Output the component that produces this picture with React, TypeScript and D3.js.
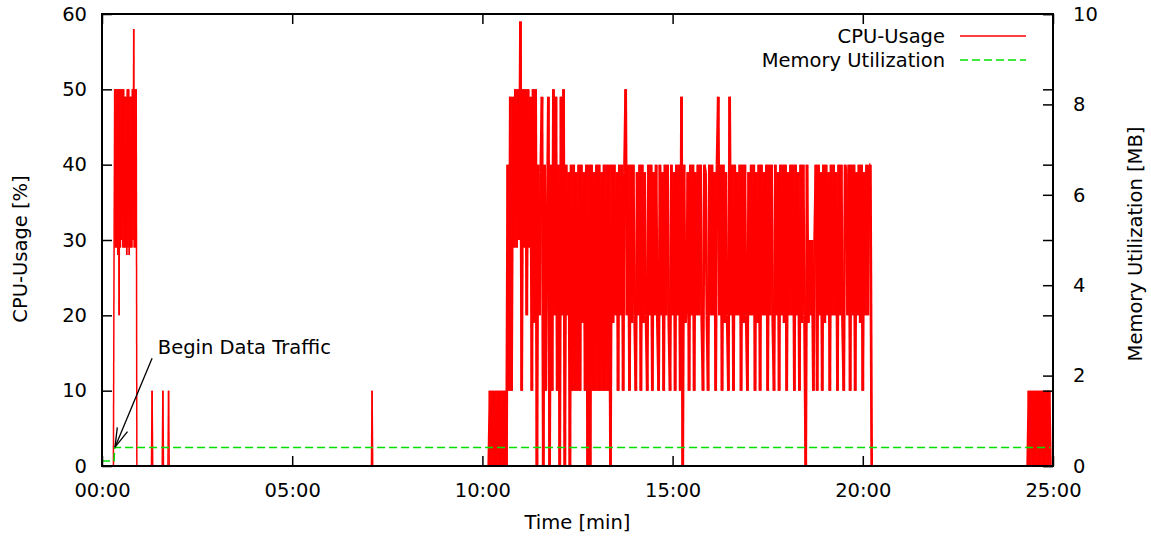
import * as d3 from 'd3';
import { useEffect, useRef } from 'react';

const width = 1151;
const height = 540;

// x axis in seconds, labelled as mm:ss
const xTicksMin = [0, 5, 10, 15, 20, 25];
const xTickLabels = ['00:00', '05:00', '10:00', '15:00', '20:00', '25:00'];
const cpuTicks = [0, 10, 20, 30, 40, 50, 60];
const memTicks = [0, 2, 4, 6, 8, 10];

// one character per sample
const levelValues: Record<string, number> = {
  '0': 0, '1': 10, a: 19, '2': 20, w: 28, b: 29, '3': 30,
  c: 39, '4': 40, d: 49, '5': 50, x: 58, y: 59,
};

const earlyBurst = '0w5b5b5w525b535b5bdbdw5b5wdbdb53xb5b50';

// 10:10 .. 20:14, one sample every 2 s
const mainBurst = [
  '010101010101010',
  '41d1db5',
  'b53y15b525bd15a5',
  '042cd0413d041',
  '52d140d2504',
  '2c04141c1414ac1404',
  '041c14141c14141404',
  'a42c14241c', '52414a421c', '2414ac2142', '41c24a142c', '1424a142c1', '4241d0',
  '4a2c14241c', '2424a14c21', '4242c14d24', '14ac21d241', '42c2414a42',
  '1c24241ca4', '142c241424', 'a142c1424a', '41c2424142', 'c14a420',
  '4a32313414', '2c14a42c14', '242c1424a1', '4c2414241c', '24a41c2424', '40',
];

const lateBurst = '0101010101010101010';

const cpuBursts = [
  { start: 18, step: 1, codes: earlyBurst },
  { start: 78, step: 1, codes: '010' },
  { start: 95, step: 1, codes: '010' },
  { start: 104, step: 1, codes: '010' },
  { start: 425, step: 1, codes: '010' },
  { start: 610, step: 2, codes: mainBurst.join('') },
  { start: 1460, step: 2, codes: lateBurst },
];

const memTimes = [0, 19, 20, 1496];
const memValues = [0.11, 0.11, 0.41, 0.41];

const seriesNames = ['CPU-Usage', 'Memory Utilization'];
const annotationText = 'Begin Data Traffic';
const annotationTip = [20.5, 2.5];
const annotationTail = [79, 14.3];
const annotationLabel = [88, 15.8];

const FONT = "'DejaVu Sans', 'Liberation Sans', Arial, sans-serif";
const FS = 19.5;

const Chart = () => {
  const ref = useRef<SVGSVGElement>(null);

  useEffect(() => {
    const svg = d3.select(ref.current);
    svg.selectAll('*').remove();

    const margin = { top: 14, right: 98, bottom: 74, left: 102 };
    const x = d3.scaleLinear().domain([0, 1500]).range([margin.left, width - margin.right]);
    const y = d3.scaleLinear().domain([0, 60]).range([height - margin.bottom, margin.top]);
    const y2 = d3.scaleLinear().domain([0, 10]).range([height - margin.bottom, margin.top]);

    const memPoints: [number, number][] = memTimes.map((t, i) => [t, memValues[i]]);

    svg.attr('width', width).attr('height', height)
      .style('font-family', FONT);

    svg.append('defs').append('clipPath').attr('id', 'plot-clip')
      .append('rect')
      .attr('x', margin.left).attr('y', margin.top)
      .attr('width', width - margin.left - margin.right)
      .attr('height', height - margin.top - margin.bottom);

    const styleAxis = (g, labels) => {
      g.select('.domain').remove();
      g.selectAll('line').attr('stroke', '#000').attr('stroke-width', 1.5);
      g.selectAll('text')
        .attr('font-size', FS)
        .attr('font-family', FONT)
        .attr('fill', '#000')
        .style('display', labels ? null : 'none');
    };

    const data = svg.append('g').attr('clip-path', 'url(#plot-clip)');

    // idle stretches sit on 0
    data.append('line')
      .attr('x1', x(0)).attr('x2', x(1500)).attr('y1', y(0)).attr('y2', y(0))
      .attr('stroke', '#ff0000').attr('stroke-width', 1.3);

    // each sample-to-sample step is its own segment; the coarser 2 s bursts
    // get a wider pen so the zigzag closes up like the 1 s original
    cpuBursts.forEach(b => {
      const pts: [number, number][] = b.codes.split('')
        .map((ch, i) => [b.start + i * b.step, levelValues[ch]]);
      data.append('g')
        .attr('stroke', '#ff0000')
        .attr('stroke-width', b.step > 1 ? 2.7 : 1.5)
        .selectAll('line')
        .data(d3.pairs(pts))
        .join('line')
        .attr('x1', d => x(d[0][0])).attr('y1', d => y(d[0][1]))
        .attr('x2', d => x(d[1][0])).attr('y2', d => y(d[1][1]));
    });

    data.append('path')
      .datum(memPoints)
      .attr('fill', 'none')
      .attr('stroke', '#00e000')
      .attr('stroke-width', 1.6)
      .attr('stroke-dasharray', '8,4')
      .attr('d', d3.line<[number, number]>().x(d => x(d[0])).y(d => y2(d[1])));

    // ticks point inwards, gnuplot style
    svg.append('g')
      .attr('transform', `translate(${margin.left},0)`)
      .call(d3.axisLeft(y).tickValues(cpuTicks).tickSize(-10).tickPadding(15))
      .call(g => styleAxis(g, true));

    svg.append('g')
      .attr('transform', `translate(${width - margin.right},0)`)
      .call(d3.axisRight(y).tickValues(cpuTicks).tickSize(-10))
      .call(g => styleAxis(g, false));

    svg.append('g')
      .attr('transform', `translate(${width - margin.right},0)`)
      .call(d3.axisRight(y2).tickValues(memTicks).tickSize(-10).tickPadding(20))
      .call(g => styleAxis(g, true));

    svg.append('g')
      .attr('transform', `translate(0,${height - margin.bottom})`)
      .call(d3.axisBottom(x)
        .tickValues(xTicksMin.map(m => m * 60))
        .tickFormat((d, i) => xTickLabels[i])
        .tickSize(-10).tickPadding(17))
      .call(g => styleAxis(g, true));

    svg.append('g')
      .attr('transform', `translate(0,${margin.top})`)
      .call(d3.axisTop(x).tickValues(xTicksMin.map(m => m * 60)).tickSize(-10))
      .call(g => styleAxis(g, false));

    svg.append('rect')
      .attr('x', margin.left).attr('y', margin.top)
      .attr('width', width - margin.left - margin.right)
      .attr('height', height - margin.top - margin.bottom)
      .attr('fill', 'none')
      .attr('stroke', '#000')
      .attr('stroke-width', 2);

    // axis titles
    svg.append('text')
      .attr('x', (margin.left + width - margin.right) / 2)
      .attr('y', 529)
      .attr('text-anchor', 'middle')
      .attr('font-size', FS)
      .text('Time [min]');

    svg.append('text')
      .attr('transform', 'translate(27,249) rotate(-90)')
      .attr('text-anchor', 'middle')
      .attr('font-size', FS)
      .text('CPU-Usage [%]');

    svg.append('text')
      .attr('transform', 'translate(1142,244) rotate(-90)')
      .attr('text-anchor', 'middle')
      .attr('font-size', FS)
      .text('Memory Utilization [MB]');

    // legend
    const legendColors = ['#ff0000', '#00e000'];
    const legendDash = [null, '8,4'];
    seriesNames.forEach((name, i) => {
      const ly = 36 + i * 24;
      svg.append('text')
        .attr('x', 945).attr('y', ly).attr('dy', '0.35em')
        .attr('text-anchor', 'end')
        .attr('font-size', FS)
        .text(name);
      svg.append('line')
        .attr('x1', 960).attr('x2', 1026).attr('y1', ly).attr('y2', ly)
        .attr('stroke', legendColors[i])
        .attr('stroke-width', 1.6)
        .attr('stroke-dasharray', legendDash[i]);
    });

    // annotation arrow
    const tip = [x(annotationTip[0]), y(annotationTip[1])];
    const tail = [x(annotationTail[0]), y(annotationTail[1])];
    const ang = Math.atan2(tail[1] - tip[1], tail[0] - tip[0]);
    const headLen = 20;
    const spread = (16 * Math.PI) / 180;
    const ann = svg.append('g').attr('stroke', '#000').attr('stroke-width', 1.3);
    ann.append('line')
      .attr('x1', tail[0]).attr('y1', tail[1]).attr('x2', tip[0]).attr('y2', tip[1]);
    [-spread, spread].forEach(s => {
      ann.append('line')
        .attr('x1', tip[0]).attr('y1', tip[1])
        .attr('x2', tip[0] + headLen * Math.cos(ang + s))
        .attr('y2', tip[1] + headLen * Math.sin(ang + s));
    });
    svg.append('text')
      .attr('x', x(annotationLabel[0])).attr('y', y(annotationLabel[1]))
      .attr('dy', '0.35em')
      .attr('font-size', FS)
      .text(annotationText);

    return () => {
      svg.selectAll('*').remove();
    };
  }, []);

  return <svg ref={ref} style={{ position: 'absolute', left: 0, top: 0 }} />;
};

export default function App() {
  return <Chart />;
}
